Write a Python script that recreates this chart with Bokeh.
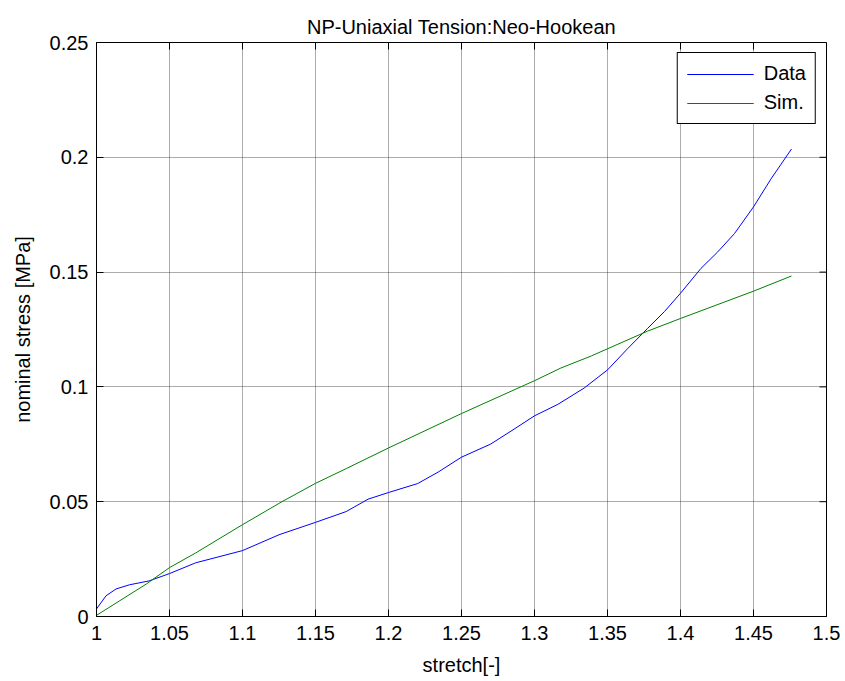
import math
from bokeh.plotting import figure
from bokeh.models import FixedTicker, Range1d, Legend, LegendItem
from bokeh.embed import file_html
from bokeh.resources import INLINE

# ---- data ----
data_x = [1.000, 1.0065, 1.0134, 1.0225, 1.036, 1.05, 1.068, 1.10, 1.125, 1.15,
          1.171, 1.186, 1.20, 1.22, 1.234, 1.25, 1.27, 1.286, 1.30, 1.316,
          1.334, 1.35, 1.364, 1.3775, 1.389, 1.40, 1.414, 1.4255, 1.437, 1.45,
          1.462, 1.476]
data_y = [0.0033, 0.009, 0.012, 0.0138, 0.0155, 0.0187, 0.0234, 0.0287, 0.0356, 0.041,
          0.0457, 0.0511, 0.054, 0.0579, 0.0629, 0.0694, 0.0751, 0.0816, 0.0874, 0.0924,
          0.0995, 0.1074, 0.1168, 0.1255, 0.1328, 0.1408, 0.1516, 0.1588, 0.1668, 0.1784,
          0.1906, 0.2036]

sim_x = [1.000, 1.016, 1.034, 1.05, 1.068, 1.10, 1.127, 1.15, 1.171, 1.20,
         1.25, 1.30, 1.318, 1.339, 1.35, 1.3775, 1.40, 1.45, 1.476]
sim_y = [0.0005, 0.0069, 0.0141, 0.0213, 0.0277, 0.040, 0.050, 0.058, 0.0644, 0.0734,
         0.0884, 0.1027, 0.1082, 0.1135, 0.1166, 0.1243, 0.1298, 0.1417, 0.1483]

x_ticks = [1.0, 1.05, 1.1, 1.15, 1.2, 1.25, 1.3, 1.35, 1.4, 1.45, 1.5]
x_tick_labels = ["1", "1.05", "1.1", "1.15", "1.2", "1.25", "1.3", "1.35", "1.4", "1.45", "1.5"]
y_ticks = [0.0, 0.05, 0.1, 0.15, 0.2, 0.25]
y_tick_labels = ["0", "0.05", "0.1", "0.15", "0.2", "0.25"]

FONT = "Liberation Sans"

p = figure(width=845, height=681, output_backend="svg", toolbar_location=None,
           x_range=Range1d(x_ticks[0], x_ticks[-1]), y_range=Range1d(y_ticks[0], y_ticks[-1]),
           min_border_left=96, min_border_right=19, min_border_top=42, min_border_bottom=65,
           title="NP-Uniaxial Tension:Neo-Hookean")

p.title.align = "center"
p.title.text_font = FONT
p.title.text_font_size = "20px"
p.title.text_font_style = "normal"
p.title.text_color = "black"

p.outline_line_color = "black"
p.outline_line_alpha = 1.0
p.outline_line_width = 1
p.background_fill_color = "white"
p.border_fill_color = "white"

for ax, ticks, labels in ((p.xaxis[0], x_ticks, x_tick_labels), (p.yaxis[0], y_ticks, y_tick_labels)):
    ax.ticker = FixedTicker(ticks=ticks)
    ax.major_label_overrides = {t: l for t, l in zip(ticks, labels)}
    ax.major_label_text_font = FONT
    ax.major_label_text_font_size = "20px"
    ax.major_label_text_color = "black"
    ax.axis_label_text_font = FONT
    ax.axis_label_text_font_size = "20px"
    ax.axis_label_text_font_style = "normal"
    ax.axis_label_text_color = "black"
    ax.axis_line_color = "black"
    ax.major_tick_line_color = "black"
    ax.major_tick_in = 7
    ax.major_tick_out = 0
    ax.minor_tick_line_color = None

p.xaxis.axis_label = "stretch[-]"
p.yaxis.axis_label = "nominal stress [MPa]"
p.xaxis.major_label_standoff = 9
p.yaxis.major_label_standoff = 8
p.xaxis.axis_label_standoff = 11
p.yaxis.axis_label_standoff = 13

p.xgrid.ticker = FixedTicker(ticks=x_ticks)
p.ygrid.ticker = FixedTicker(ticks=y_ticks)
for g in (p.xgrid, p.ygrid):
    g.grid_line_color = "black"
    g.grid_line_alpha = 0.65
    g.grid_line_dash = "1 1"
    g.grid_line_width = 1

# inward ticks on the top and right edges of the box (clipped to the frame)
p.scatter(x=x_ticks, y=[y_ticks[-1]] * len(x_ticks), marker="dash", angle=math.pi / 2,
          size=14, line_color="black", line_width=1)
p.scatter(x=[x_ticks[-1]] * len(y_ticks), y=y_ticks, marker="dash",
          size=14, line_color="black", line_width=1)

r1 = p.line(data_x, data_y, line_color="#0000ff", line_width=1)
r2 = p.line(sim_x, sim_y, line_color="#008000", line_width=1)

legend = Legend(items=[LegendItem(label="Data", renderers=[r1]),
                       LegendItem(label="Sim.", renderers=[r2])],
                location="top_right")
legend.margin = 10
legend.border_line_color = "black"
legend.border_line_width = 1
legend.border_line_alpha = 1.0
legend.background_fill_color = "white"
legend.background_fill_alpha = 1.0
legend.label_text_font = FONT
legend.label_text_font_size = "20px"
legend.label_text_color = "black"
legend.glyph_width = 67
legend.glyph_height = 20
legend.label_standoff = 10
legend.padding = 9
legend.spacing = 6
p.add_layout(legend)

open("out.html", "w").write(file_html(p, INLINE))
